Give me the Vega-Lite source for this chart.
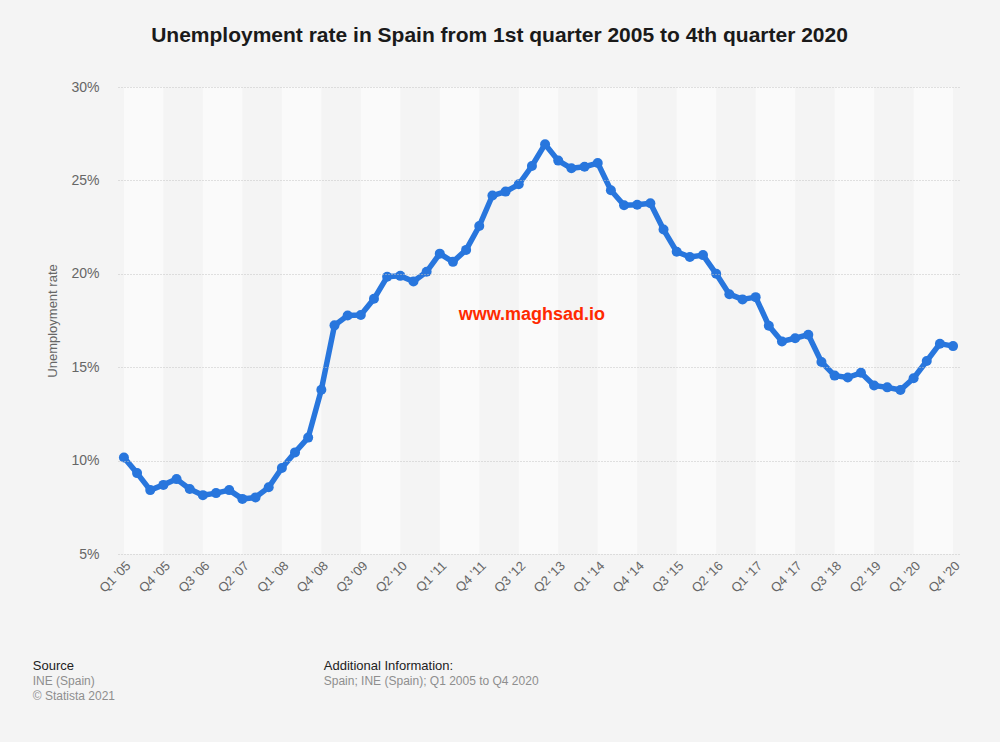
{
  "$schema": "https://vega.github.io/schema/vega-lite/v6.json",
  "background": "#f4f4f4",
  "padding": {"left": 32, "top": 25, "right": 42, "bottom": 39},
  "bounds": "flush",
  "spacing": 1,
  "title": {
    "text": "Unemployment rate in Spain from 1st quarter 2005 to 4th quarter 2020",
    "font": "Liberation Sans",
    "fontSize": 21,
    "fontWeight": "bold",
    "color": "#1a1a1a",
    "anchor": "middle",
    "dx": 2,
    "offset": 34
  },
  "datasets": {
    "rate": [
      {"q": "Q1 '05", "v": 10.17}, {"q": "Q2 '05", "v": 9.33}, {"q": "Q3 '05", "v": 8.42}, {"q": "Q4 '05", "v": 8.70},
      {"q": "Q1 '06", "v": 9.01}, {"q": "Q2 '06", "v": 8.48}, {"q": "Q3 '06", "v": 8.15}, {"q": "Q4 '06", "v": 8.26},
      {"q": "Q1 '07", "v": 8.42}, {"q": "Q2 '07", "v": 7.95}, {"q": "Q3 '07", "v": 8.03}, {"q": "Q4 '07", "v": 8.57},
      {"q": "Q1 '08", "v": 9.60}, {"q": "Q2 '08", "v": 10.44}, {"q": "Q3 '08", "v": 11.23}, {"q": "Q4 '08", "v": 13.79},
      {"q": "Q1 '09", "v": 17.24}, {"q": "Q2 '09", "v": 17.77}, {"q": "Q3 '09", "v": 17.79}, {"q": "Q4 '09", "v": 18.66},
      {"q": "Q1 '10", "v": 19.84}, {"q": "Q2 '10", "v": 19.89}, {"q": "Q3 '10", "v": 19.59}, {"q": "Q4 '10", "v": 20.11},
      {"q": "Q1 '11", "v": 21.08}, {"q": "Q2 '11", "v": 20.64}, {"q": "Q3 '11", "v": 21.28}, {"q": "Q4 '11", "v": 22.56},
      {"q": "Q1 '12", "v": 24.19}, {"q": "Q2 '12", "v": 24.40}, {"q": "Q3 '12", "v": 24.79}, {"q": "Q4 '12", "v": 25.77},
      {"q": "Q1 '13", "v": 26.94}, {"q": "Q2 '13", "v": 26.06}, {"q": "Q3 '13", "v": 25.65}, {"q": "Q4 '13", "v": 25.73},
      {"q": "Q1 '14", "v": 25.93}, {"q": "Q2 '14", "v": 24.47}, {"q": "Q3 '14", "v": 23.67}, {"q": "Q4 '14", "v": 23.70},
      {"q": "Q1 '15", "v": 23.78}, {"q": "Q2 '15", "v": 22.37}, {"q": "Q3 '15", "v": 21.18}, {"q": "Q4 '15", "v": 20.90},
      {"q": "Q1 '16", "v": 21.00}, {"q": "Q2 '16", "v": 20.00}, {"q": "Q3 '16", "v": 18.91}, {"q": "Q4 '16", "v": 18.63},
      {"q": "Q1 '17", "v": 18.75}, {"q": "Q2 '17", "v": 17.22}, {"q": "Q3 '17", "v": 16.38}, {"q": "Q4 '17", "v": 16.55},
      {"q": "Q1 '18", "v": 16.74}, {"q": "Q2 '18", "v": 15.28}, {"q": "Q3 '18", "v": 14.55}, {"q": "Q4 '18", "v": 14.45},
      {"q": "Q1 '19", "v": 14.70}, {"q": "Q2 '19", "v": 14.02}, {"q": "Q3 '19", "v": 13.92}, {"q": "Q4 '19", "v": 13.78},
      {"q": "Q1 '20", "v": 14.41}, {"q": "Q2 '20", "v": 15.33}, {"q": "Q3 '20", "v": 16.26}, {"q": "Q4 '20", "v": 16.13}
    ],
    "bands": [
      {"s": "Q1 '05", "e": "Q4 '05"}, {"s": "Q3 '06", "e": "Q2 '07"}, {"s": "Q1 '08", "e": "Q4 '08"},
      {"s": "Q3 '09", "e": "Q2 '10"}, {"s": "Q1 '11", "e": "Q4 '11"}, {"s": "Q3 '12", "e": "Q2 '13"},
      {"s": "Q1 '14", "e": "Q4 '14"}, {"s": "Q3 '15", "e": "Q2 '16"}, {"s": "Q1 '17", "e": "Q4 '17"},
      {"s": "Q3 '18", "e": "Q2 '19"}, {"s": "Q1 '20", "e": "Q4 '20"}
    ]
  },
  "vconcat": [
    {
      "width": 841,
      "height": 467,
      "encoding": {
        "x": {
          "type": "ordinal",
          "scale": {
            "type": "point",
            "padding": 0.45,
            "domain": ["Q1 '05","Q2 '05","Q3 '05","Q4 '05","Q1 '06","Q2 '06","Q3 '06","Q4 '06","Q1 '07","Q2 '07","Q3 '07","Q4 '07","Q1 '08","Q2 '08","Q3 '08","Q4 '08","Q1 '09","Q2 '09","Q3 '09","Q4 '09","Q1 '10","Q2 '10","Q3 '10","Q4 '10","Q1 '11","Q2 '11","Q3 '11","Q4 '11","Q1 '12","Q2 '12","Q3 '12","Q4 '12","Q1 '13","Q2 '13","Q3 '13","Q4 '13","Q1 '14","Q2 '14","Q3 '14","Q4 '14","Q1 '15","Q2 '15","Q3 '15","Q4 '15","Q1 '16","Q2 '16","Q3 '16","Q4 '16","Q1 '17","Q2 '17","Q3 '17","Q4 '17","Q1 '18","Q2 '18","Q3 '18","Q4 '18","Q1 '19","Q2 '19","Q3 '19","Q4 '19","Q1 '20","Q2 '20","Q3 '20","Q4 '20"]
          },
          "axis": {
            "title": null,
            "values": ["Q1 '05","Q4 '05","Q3 '06","Q2 '07","Q1 '08","Q4 '08","Q3 '09","Q2 '10","Q1 '11","Q4 '11","Q3 '12","Q2 '13","Q1 '14","Q4 '14","Q3 '15","Q2 '16","Q1 '17","Q4 '17","Q3 '18","Q2 '19","Q1 '20","Q4 '20"],
            "labelAngle": -45,
            "labelFont": "Liberation Sans",
            "labelFontSize": 13,
            "labelColor": "#666666",
            "labelPadding": 5,
            "ticks": false,
            "domain": false,
            "grid": false
          }
        }
      },
      "layer": [
        {
          "data": {"name": "bands"},
          "mark": {"type": "rect", "color": "#fafafa"},
          "encoding": {
            "x": {"field": "s", "type": "ordinal"},
            "x2": {"field": "e"}
          }
        },
        {
          "data": {"name": "rate"},
          "mark": {
            "type": "line",
            "color": "#2876dd",
            "strokeWidth": 5.5,
            "strokeJoin": "round",
            "strokeCap": "round",
            "point": {"filled": true, "size": 100, "color": "#2876dd", "opacity": 1}
          },
          "encoding": {
            "x": {"field": "q", "type": "ordinal"},
            "y": {
              "field": "v",
              "type": "quantitative",
              "scale": {"domain": [5, 30], "nice": false, "zero": false},
              "axis": {
                "title": "Unemployment rate",
                "titleFont": "Liberation Sans",
                "titleFontSize": 13,
                "titleFontWeight": "normal",
                "titleColor": "#666666",
                "titlePadding": 11,
                "values": [5, 10, 15, 20, 25, 30],
                "labelExpr": "datum.value + '%'",
                "labelFont": "Liberation Sans",
                "labelFontSize": 14,
                "labelColor": "#666666",
                "labelPadding": 19,
                "ticks": false,
                "domain": false,
                "grid": true,
                "gridColor": "#c4c4c4",
                "gridDash": [1, 2],
                "gridWidth": 1,
                "zindex": 1
              }
            }
          }
        },
        {
          "data": {"name": "rate"},
          "transform": [{"filter": "datum.q == \"Q4 '12\""}],
          "mark": {
            "type": "text",
            "text": "www.maghsad.io",
            "font": "Liberation Sans",
            "fontSize": 18,
            "fontWeight": "bold",
            "color": "#ff2a00",
            "baseline": "middle",
            "align": "center"
          },
          "encoding": {
            "x": {"field": "q", "type": "ordinal"},
            "y": {"datum": 17.8}
          }
        }
      ]
    },
    {
      "width": 1,
      "height": 1,
      "data": {"values": [{}]},
      "mark": {"type": "point", "opacity": 0},
      "encoding": {},
      "title": {
        "text": "Source",
        "subtitle": ["INE (Spain)", "© Statista 2021"],
        "orient": "bottom",
        "anchor": "start",
        "dx": -83,
        "offset": 102,
        "font": "Liberation Sans",
        "fontSize": 13,
        "fontWeight": "normal",
        "color": "#222222",
        "subtitleFont": "Liberation Sans",
        "subtitleFontSize": 12,
        "subtitleColor": "#8e8e8e",
        "subtitleLineHeight": 15,
        "subtitlePadding": 3
      }
    },
    {
      "width": 1,
      "height": 1,
      "data": {"values": [{}]},
      "mark": {"type": "point", "opacity": 0},
      "encoding": {},
      "title": {
        "text": "Additional Information:",
        "subtitle": "Spain; INE (Spain); Q1 2005 to Q4 2020",
        "orient": "bottom",
        "anchor": "start",
        "dx": 208,
        "offset": 100,
        "font": "Liberation Sans",
        "fontSize": 13,
        "fontWeight": "normal",
        "color": "#222222",
        "subtitleFont": "Liberation Sans",
        "subtitleFontSize": 12,
        "subtitleColor": "#8e8e8e",
        "subtitleLineHeight": 15,
        "subtitlePadding": 3
      }
    }
  ],
  "config": {
    "view": {"stroke": null},
    "font": "Liberation Sans"
  }
}
